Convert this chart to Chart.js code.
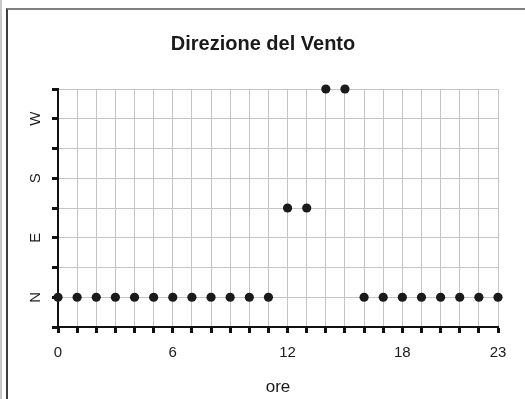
<!DOCTYPE html>
<html lang="it">
<head>
  <meta charset="UTF-8" />
  <title>Direzione del Vento</title>
  <script src="https://cdn.jsdelivr.net/npm/chart.js"></script>
  <style>
    html, body {
      margin: 0;
      padding: 0;
      background: #fff;
      overflow: hidden;
    }
    #wrap {
      position: relative;
      width: 525px;
      height: 399px;
      overflow: hidden;
    }
    #edge {
      position: absolute;
      left: 0; top: 0; bottom: 0;
      border-left: 2px solid #c8c8c8;
    }
    #frame {
      position: absolute;
      left: 6px; top: 8px; right: -10px; bottom: -10px;
      border-left: 2px solid #404040;
      border-top: 2px solid #808080;
      pointer-events: none;
    }
  </style>
</head>
<body>
  <div id="wrap">
    <canvas id="chart" width="525" height="399"></canvas>
    <div id="edge"></div>
    <div id="frame"></div>
  </div>

  <script>
    // dati
    const hours = [0, 1, 2, 3, 4, 5, 6, 7, 8, 9, 10, 11, 12, 13, 14, 15, 16, 17, 18, 19, 20, 21, 22, 23];
    const direction = [0, 0, 0, 0, 0, 0, 0, 0, 0, 0, 0, 0, 135, 135, 315, 315, 0, 0, 0, 0, 0, 0, 0, 0];
    const dirLabels = { 0: 'N', 90: 'E', 180: 'S', 270: 'W' };
    const hourLabels = [0, 6, 12, 18, 23];

    const font = 'Arial, "Liberation Sans", sans-serif';

    const ctx = document.getElementById('chart').getContext('2d');
    new Chart(ctx, {
      type: 'scatter',
      data: {
        datasets: [{
          data: hours.map((h, i) => ({ x: h, y: direction[i] })),
          pointRadius: 4.6,
          pointHoverRadius: 4.6,
          pointBackgroundColor: '#1a1a1a',
          pointBorderWidth: 0,
          showLine: false,
          clip: false,
        }],
      },
      options: {
        responsive: false,
        animation: false,
        events: [],
        layout: { autoPadding: false, padding: { left: 28, right: 27, top: 0, bottom: 0 } },
        plugins: {
          legend: { display: false },
          tooltip: { enabled: false },
          title: {
            display: true,
            text: 'Direzione del Vento',
            color: '#1a1a1a',
            font: { family: font, size: 20, weight: 'bold' },
            padding: { top: 32, bottom: 33 },
          },
        },
        scales: {
          x: {
            type: 'linear',
            min: 0,
            max: 23,
            afterFit: (s) => { s.height = 72; },
            border: { color: '#111', width: 2 },
            grid: { color: '#c4c4c4', lineWidth: 1, tickColor: '#111', tickWidth: 3, tickLength: 6 },
            ticks: {
              stepSize: 1,
              autoSkip: false,
              maxRotation: 0,
              padding: 11,
              color: '#1a1a1a',
              font: { family: font, size: 15 },
              callback: (v) => (hourLabels.includes(v) ? String(v) : ''),
            },
            title: {
              display: true,
              text: 'ore',
              color: '#1a1a1a',
              font: { family: font, size: 17 },
              padding: { top: 0, bottom: 1 },
            },
          },
          y: {
            type: 'linear',
            min: -45,
            max: 315,
            afterFit: (s) => { s.width = 30; },
            border: { color: '#111', width: 2 },
            grid: { color: '#c4c4c4', lineWidth: 1, tickColor: '#111', tickWidth: 3, tickLength: 6 },
            ticks: {
              stepSize: 45,
              autoSkip: false,
              minRotation: 90,
              maxRotation: 90,
              crossAlign: 'center',
              padding: 9,
              color: '#1a1a1a',
              font: { family: font, size: 15 },
              callback: (v) => dirLabels[v] || '',
            },
          },
        },
      },
    });
  </script>
</body>
</html>
